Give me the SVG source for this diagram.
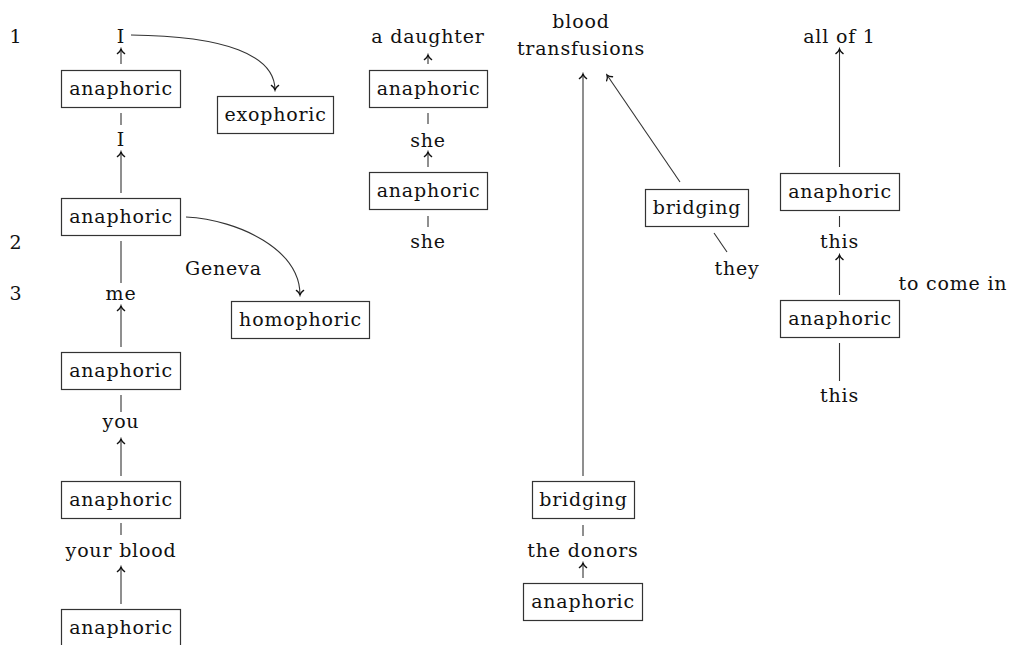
<svg xmlns="http://www.w3.org/2000/svg" width="1012" height="645" viewBox="0 0 1012 645">
  <defs>
    <marker id="arr" viewBox="-6 -5 8 10" refX="0" refY="0" markerWidth="8" markerHeight="10" markerUnits="userSpaceOnUse" orient="auto">
      <path d="M-4.6,-3.6 C-3,-1.3 -1,-0.3 0,0 C-1,0.3 -3,1.3 -4.6,3.6" fill="none" stroke="#111" stroke-width="1.3" stroke-linecap="round"/>
    </marker>
    <style>
      text { font-family: "DejaVu Serif", serif; font-size: 19px; letter-spacing: 0.8px; fill: #111; }
      .c { text-anchor: middle; }
      rect { fill: #fff; stroke: #333; stroke-width: 1.2; }
      .ln { stroke: #333; stroke-width: 1.1; fill: none; }
      .ar { stroke: #333; stroke-width: 1.1; fill: none; marker-end: url(#arr); }
    </style>
  </defs>

  <g font-family="DejaVu Serif">
  <!-- line numbers -->
  <g id="numbers">
    <text x="16" y="43" class="c">1</text>
    <text x="16" y="249" class="c">2</text>
    <text x="16" y="300" class="c">3</text>
  </g>

  <!-- connectors -->
  <g id="connectors">
    <line class="ar" x1="121" y1="64" x2="121" y2="49"/>
    <line class="ln" x1="121" y1="113" x2="121" y2="125"/>
    <line class="ar" x1="121" y1="193" x2="121" y2="152"/>
    <line class="ln" x1="121" y1="241" x2="121" y2="283"/>
    <line class="ar" x1="121" y1="347" x2="121" y2="306"/>
    <line class="ln" x1="121" y1="395" x2="121" y2="412"/>
    <line class="ar" x1="121" y1="476" x2="121" y2="439"/>
    <line class="ln" x1="121" y1="523" x2="121" y2="535"/>
    <line class="ar" x1="121" y1="604" x2="121" y2="567"/>
    <path class="ar" d="M131,35 C225,36 275,55 275,90"/>
    <path class="ar" d="M186,217 C240,220 300,250 300,295"/>
    <line class="ar" x1="428" y1="64" x2="428" y2="55"/>
    <line class="ln" x1="428" y1="113" x2="428" y2="124"/>
    <line class="ar" x1="428" y1="167" x2="428" y2="152"/>
    <line class="ln" x1="428" y1="216" x2="428" y2="227"/>
    <line class="ar" x1="583" y1="476" x2="583" y2="74"/>
    <line class="ar" x1="680" y1="182" x2="607" y2="75"/>
    <line class="ln" x1="714" y1="233" x2="727" y2="252"/>
    <line class="ln" x1="583" y1="525" x2="583" y2="536"/>
    <line class="ar" x1="583" y1="578" x2="583" y2="563"/>
    <line class="ar" x1="839.5" y1="167" x2="839.5" y2="49"/>
    <line class="ln" x1="839.5" y1="216" x2="839.5" y2="227"/>
    <line class="ar" x1="839.5" y1="295" x2="839.5" y2="255"/>
    <line class="ln" x1="839.5" y1="343" x2="839.5" y2="381"/>
  </g>

  <!-- word labels -->
  <g id="words">
    <text x="121" y="43" class="c">I</text>
    <text x="121" y="146" class="c">I</text>
    <text x="121" y="300" class="c">me</text>
    <text x="121" y="428" class="c">you</text>
    <text x="121" y="557" class="c">your blood</text>
    <text x="185" y="275">Geneva</text>
    <text x="428" y="43" class="c">a daughter</text>
    <text x="428" y="147" class="c">she</text>
    <text x="428" y="248" class="c">she</text>
    <text x="581" y="28" class="c">blood</text>
    <text x="581" y="55" class="c">transfusions</text>
    <text x="737" y="275" class="c">they</text>
    <text x="583" y="557" class="c">the donors</text>
    <text x="839.5" y="43" class="c">all of 1</text>
    <text x="839.5" y="248" class="c">this</text>
    <text x="839.5" y="402" class="c">this</text>
    <text x="953" y="290" class="c">to come in</text>
  </g>

  <!-- nodes -->
  <g id="n-ana1"><rect x="61.5" y="70.5" width="119" height="37"/><text x="121" y="95" class="c">anaphoric</text></g>
  <g id="n-exo"><rect x="217.5" y="96.5" width="116" height="37"/><text x="275.5" y="121" class="c">exophoric</text></g>
  <g id="n-ana2"><rect x="61.5" y="198.5" width="119" height="37"/><text x="121" y="223" class="c">anaphoric</text></g>
  <g id="n-homo"><rect x="231.5" y="301.5" width="138" height="37"/><text x="300.5" y="326" class="c">homophoric</text></g>
  <g id="n-ana3"><rect x="61.5" y="352.5" width="119" height="37"/><text x="121" y="377" class="c">anaphoric</text></g>
  <g id="n-ana4"><rect x="61.5" y="481.5" width="119" height="37"/><text x="121" y="506" class="c">anaphoric</text></g>
  <g id="n-ana5"><rect x="61.5" y="609.5" width="119" height="37"/><text x="121" y="634" class="c">anaphoric</text></g>
  <g id="n-ana6"><rect x="369.5" y="70.5" width="118" height="37"/><text x="428.5" y="95" class="c">anaphoric</text></g>
  <g id="n-ana7"><rect x="369.5" y="172.5" width="118" height="37"/><text x="428.5" y="197" class="c">anaphoric</text></g>
  <g id="n-bridge1"><rect x="645.5" y="189.5" width="103" height="37"/><text x="697" y="214" class="c">bridging</text></g>
  <g id="n-bridge2"><rect x="532.5" y="481.5" width="102" height="37"/><text x="583.5" y="506" class="c">bridging</text></g>
  <g id="n-ana8"><rect x="523.5" y="583.5" width="119" height="37"/><text x="583" y="608" class="c">anaphoric</text></g>
  <g id="n-ana9"><rect x="780.5" y="173.5" width="119" height="37"/><text x="840" y="198" class="c">anaphoric</text></g>
  <g id="n-ana10"><rect x="780.5" y="300.5" width="119" height="37"/><text x="840" y="325" class="c">anaphoric</text></g>
  </g>
</svg>
